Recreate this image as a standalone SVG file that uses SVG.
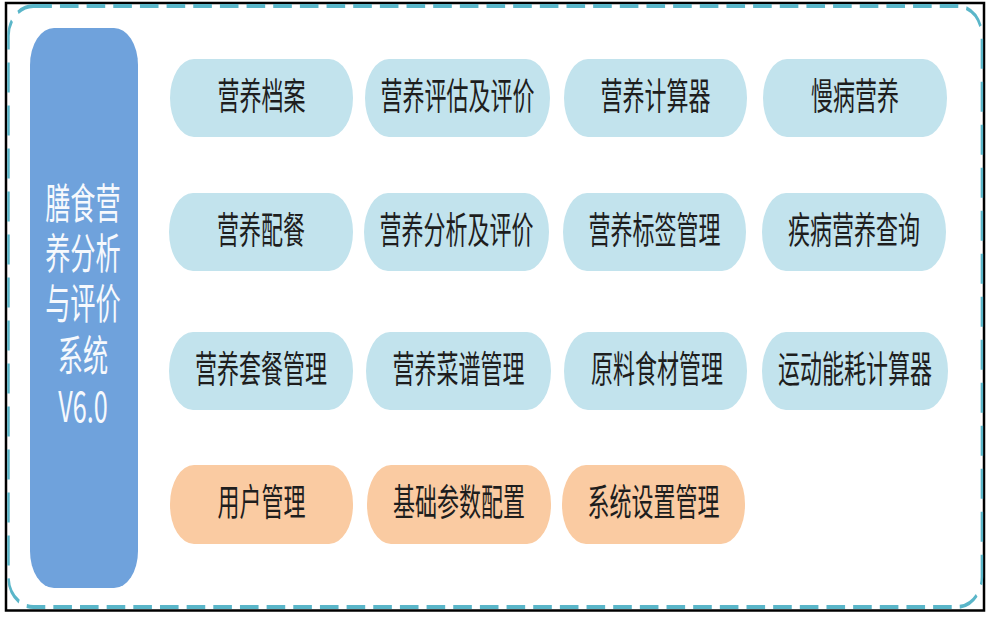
<svg xmlns="http://www.w3.org/2000/svg" width="1001" height="624" viewBox="0 0 1001 624">
<defs>
<style>
.pill-b{fill:#c2e3ed;}
.pill-o{fill:#facba2;}
.lbl{font-family:"Noto Sans CJK SC","Noto Sans",sans-serif;font-size:37px;fill:#1e1e1e;text-anchor:middle;}
.side{font-family:"Noto Sans CJK SC","Noto Sans",sans-serif;font-size:42px;fill:#f6f9fd;text-anchor:middle;}
</style>
</defs>
<rect x="0" y="0" width="1001" height="624" fill="#ffffff"/>
<rect id="frame" x="6" y="3" width="978" height="607.5" fill="none" stroke="#000000" stroke-width="2.5"/>
<g id="container" transform="scale(0.62,1)">
<rect x="13.7" y="6" width="1570" height="601" rx="40" ry="30" fill="none" stroke="#5ab6c9" stroke-width="4" stroke-dasharray="30 13"/>
</g>
<g id="connectors"></g>
<g id="title">
<rect x="30" y="28" width="108" height="560" rx="24" ry="37" fill="#6fa2dc"/>
<text class="side" transform="scale(0.6,1)"><tspan x="138.3" y="219">膳食营</tspan><tspan x="138.3" y="269">养分析</tspan><tspan x="138.3" y="319">与评价</tspan><tspan x="138.3" y="371">系统</tspan><tspan x="138.3" y="422">V6.0</tspan></text>
</g>
<g id="n1"><rect class="pill-b" x="170" y="59" width="183" height="78" rx="24" ry="39"/><text class="lbl" transform="translate(261.5,109.5) scale(0.595,1)">营养档案</text></g>
<g id="n2"><rect class="pill-b" x="365" y="59" width="185" height="78" rx="24" ry="39"/><text class="lbl" transform="translate(457.5,109.5) scale(0.595,1)">营养评估及评价</text></g>
<g id="n3"><rect class="pill-b" x="564" y="59" width="183" height="78" rx="24" ry="39"/><text class="lbl" transform="translate(655.5,109.5) scale(0.595,1)">营养计算器</text></g>
<g id="n4"><rect class="pill-b" x="763" y="59" width="184" height="78" rx="24" ry="39"/><text class="lbl" transform="translate(855,109.5) scale(0.595,1)">慢病营养</text></g>
<g id="n5"><rect class="pill-b" x="169" y="193" width="184" height="78" rx="24" ry="39"/><text class="lbl" transform="translate(261,243.5) scale(0.595,1)">营养配餐</text></g>
<g id="n6"><rect class="pill-b" x="364" y="193" width="185" height="78" rx="24" ry="39"/><text class="lbl" transform="translate(456.5,243.5) scale(0.595,1)">营养分析及评价</text></g>
<g id="n7"><rect class="pill-b" x="563" y="193" width="183" height="78" rx="24" ry="39"/><text class="lbl" transform="translate(654.5,243.5) scale(0.595,1)">营养标签管理</text></g>
<g id="n8"><rect class="pill-b" x="762" y="193" width="184" height="78" rx="24" ry="39"/><text class="lbl" transform="translate(854,243.5) scale(0.595,1)">疾病营养查询</text></g>
<g id="n9"><rect class="pill-b" x="169" y="332" width="184" height="78" rx="24" ry="39"/><text class="lbl" transform="translate(261,382.5) scale(0.595,1)">营养套餐管理</text></g>
<g id="n10"><rect class="pill-b" x="366" y="332" width="185" height="78" rx="24" ry="39"/><text class="lbl" transform="translate(458.5,382.5) scale(0.595,1)">营养菜谱管理</text></g>
<g id="n11"><rect class="pill-b" x="564" y="332" width="183" height="78" rx="24" ry="39"/><text class="lbl" transform="translate(657,382.5) scale(0.595,1)">原料食材管理</text></g>
<g id="n12"><rect class="pill-b" x="762" y="332" width="186" height="78" rx="24" ry="39"/><text class="lbl" transform="translate(855,382.5) scale(0.595,1)">运动能耗计算器</text></g>
<g id="n13"><rect class="pill-o" x="170" y="465" width="183" height="79" rx="24" ry="39"/><text class="lbl" transform="translate(261.5,516) scale(0.595,1)">用户管理</text></g>
<g id="n14"><rect class="pill-o" x="367" y="465" width="184" height="79" rx="24" ry="39"/><text class="lbl" transform="translate(459,516) scale(0.595,1)">基础参数配置</text></g>
<g id="n15"><rect class="pill-o" x="562" y="465" width="183" height="79" rx="24" ry="39"/><text class="lbl" transform="translate(653.5,516) scale(0.595,1)">系统设置管理</text></g>
</svg>
